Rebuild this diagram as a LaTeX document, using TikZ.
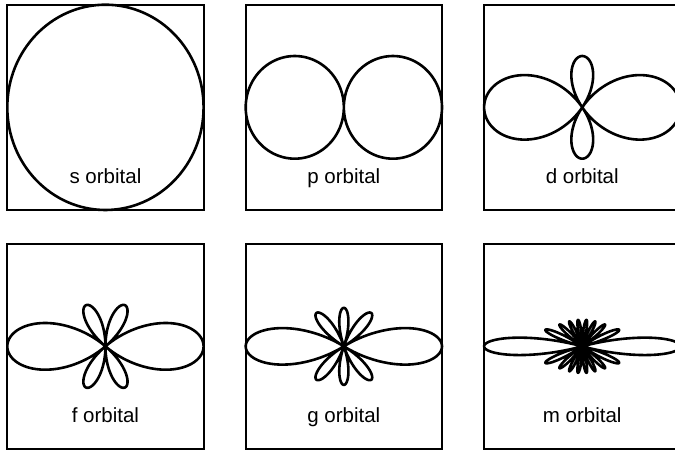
\documentclass[tikz,border=0pt]{standalone}
\usepackage{fontspec}
\setmainfont{Liberation Sans}
\tikzset{
  frame/.style={draw, line width=2.2pt, minimum width=196.3pt, minimum height=205.3pt, inner sep=0pt, outer sep=0pt},
  orb/.style={line width=2.6pt, line join=round},
  lbl/.style={font=\fontsize{20.5}{24}\selectfont, anchor=base, inner sep=0pt},
  lobe/.style={shift={(#1.center)}, x=98.15pt, y=102.65pt},
  declare function={
    Pone(\t)=cos(\t);
    Ptwo(\t)=(3*cos(\t)*cos(\t)-1)/2;
    Pthree(\t)=(5*cos(\t)^3-3*cos(\t))/2;
    Pfour(\t)=(35*cos(\t)^4-30*cos(\t)^2+3)/8;
    Pnine(\t)=0.3709412*cos(9*\t)+0.1963806*cos(7*\t)+0.1571045*cos(5*\t)+0.1409912*cos(3*\t)+0.1345825*cos(\t);
  }
}
\begin{document}
\begin{tikzpicture}[x=1pt, y=-1pt]
\useasboundingbox (0,0) rectangle (675,450);
\clip (0,0) rectangle (675,450);
% frames
\node[frame] (b1) at (105.45,107.35) {};
\node[frame] (b2) at (343.85,107.35) {};
\node[frame] (b3) at (582.25,107.35) {};
\node[frame] (b4) at (105.45,346.35) {};
\node[frame] (b5) at (343.85,346.35) {};
\node[frame] (b6) at (582.25,346.35) {};
% labels
\node[lbl] (t1) at (105.45,183.3) {s orbital};
\node[lbl] (t2) at (343.85,183.3) {p orbital};
\node[lbl] (t3) at (582.25,183.3) {d orbital};
\node[lbl] (t4) at (105.45,422.3) {f orbital};
\node[lbl] (t5) at (343.85,422.3) {g orbital};
\node[lbl] (t6) at (582.25,422.3) {m orbital};
% s
\begin{scope}[lobe=b1]
  \draw[orb] (0,0) ellipse[x radius=98.15pt, y radius=102.65pt];
\end{scope}
% p
\begin{scope}[lobe=b2]
  \draw[orb] plot[domain=0:360, samples=361, variable=\t] ({abs(Pone(\t))*cos(\t)},{abs(Pone(\t))*sin(\t)}) -- cycle;
\end{scope}
% d
\begin{scope}[lobe=b3]
  \draw[orb] plot[domain=0:360, samples=721, variable=\t] ({abs(Ptwo(\t))*cos(\t)},{abs(Ptwo(\t))*sin(\t)}) -- cycle;
\end{scope}
% f
\begin{scope}[lobe=b4]
  \draw[orb] plot[domain=0:360, samples=721, variable=\t] ({abs(Pthree(\t))*cos(\t)},{abs(Pthree(\t))*sin(\t)}) -- cycle;
\end{scope}
% g
\begin{scope}[lobe=b5]
  \draw[orb] plot[domain=0:360, samples=721, variable=\t] ({abs(Pfour(\t))*cos(\t)},{abs(Pfour(\t))*sin(\t)}) -- cycle;
\end{scope}
% m
\begin{scope}[lobe=b6]
  \draw[orb] plot[domain=0:360, samples=1441, variable=\t] ({abs(Pnine(\t))*cos(\t)},{abs(Pnine(\t))*sin(\t)}) -- cycle;
\end{scope}
\end{tikzpicture}
\end{document}
